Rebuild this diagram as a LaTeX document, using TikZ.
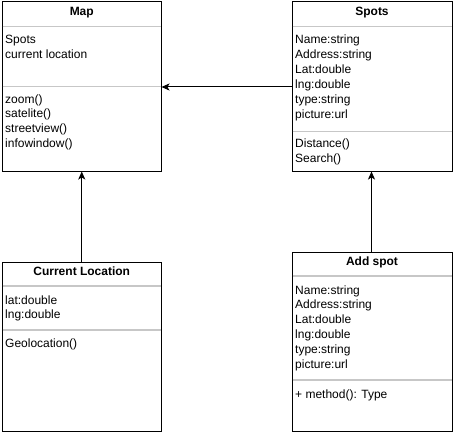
\documentclass[tikz,border=0pt]{standalone}
\usepackage{fontspec}
\setmainfont{Liberation Sans}
\usetikzlibrary{arrows.meta}
\begin{document}
\begin{tikzpicture}[x=1pt,y=-1pt,
  box/.style={draw=black,line width=1pt,inner sep=0pt,outer sep=0pt,anchor=north west},
  sep/.style={draw=black!22,line width=1.6pt},
  ttl/.style={anchor=base,inner sep=0pt,font=\fontsize{12}{14}\selectfont\bfseries},
  txt/.style={anchor=base west,inner sep=0pt,font=\fontsize{12}{14}\selectfont},
  arr/.style={draw=black,line width=1pt,-{Stealth[length=8pt,width=7pt,inset=2pt]}}]
\useasboundingbox (0,0) rectangle (453,436);
\fill[white] (0,0) rectangle (453,436);
% boxes
\node[box,minimum width=159.5pt,minimum height=169.5pt] (map) at (2,2) {};
\node[box,minimum width=160pt,minimum height=169.5pt] (spots) at (292,2) {};
\node[box,minimum width=159.5pt,minimum height=169pt] (cl) at (2,262) {};
\node[box,minimum width=160pt,minimum height=179pt] (add) at (292,252) {};
% separators
\draw[sep] ([xshift=0.5pt,yshift=-24.5pt]map.north west) -- ([xshift=-0.5pt,yshift=-24.5pt]map.north east);
\draw[sep] ([xshift=0.5pt,yshift=-84.5pt]map.north west) -- ([xshift=-0.5pt,yshift=-84.5pt]map.north east);
\draw[sep] ([xshift=0.5pt,yshift=-24.5pt]spots.north west) -- ([xshift=-0.5pt,yshift=-24.5pt]spots.north east);
\draw[sep] ([xshift=0.5pt,yshift=-129.5pt]spots.north west) -- ([xshift=-0.5pt,yshift=-129.5pt]spots.north east);
\draw[sep] ([xshift=0.5pt,yshift=-24pt]cl.north west) -- ([xshift=-0.5pt,yshift=-24pt]cl.north east);
\draw[sep] ([xshift=0.5pt,yshift=-68pt]cl.north west) -- ([xshift=-0.5pt,yshift=-68pt]cl.north east);
\draw[sep] ([xshift=0.5pt,yshift=-24pt]add.north west) -- ([xshift=-0.5pt,yshift=-24pt]add.north east);
\draw[sep] ([xshift=0.5pt,yshift=-128pt]add.north west) -- ([xshift=-0.5pt,yshift=-128pt]add.north east);
% titles
\node[ttl] (tmap) at (81.75,16) {Map};
\node[ttl] (tspots) at (372,16) {Spots};
\node[ttl] (tcl) at (81.75,275) {Current Location};
\node[ttl] (tadd) at (372,265) {Add spot};
% Map
\node[txt] (m1) at (5,44) {Spots};
\node[txt] (m2) at (5,58.8) {current location};
\node[txt] (m3) at (5,103) {zoom()};
\node[txt] (m4) at (5,117.8) {satelite()};
\node[txt] (m5) at (5,132.6) {streetview()};
\node[txt] (m6) at (5,147.4) {infowindow()};
% Spots
\node[txt] (s1) at (295,44) {Name:string};
\node[txt] (s2) at (295,58.8) {Address:string};
\node[txt] (s3) at (295,73.6) {Lat:double};
\node[txt] (s4) at (295,88.4) {lng:double};
\node[txt] (s5) at (295,103.2) {type:string};
\node[txt] (s6) at (295,118) {picture:url};
\node[txt] (s7) at (295,147.6) {Distance()};
\node[txt] (s8) at (295,162.4) {Search()};
% Current Location
\node[txt] (c1) at (5,304) {lat:double};
\node[txt] (c2) at (5,318.8) {lng:double};
\node[txt] (c3) at (5,347.4) {Geolocation()};
% Add spot
\node[txt] (a1) at (295,294) {Name:string};
\node[txt] (a2) at (295,308.8) {Address:string};
\node[txt] (a3) at (295,323.6) {Lat:double};
\node[txt] (a4) at (295,338.4) {lng:double};
\node[txt] (a5) at (295,353.2) {type:string};
\node[txt] (a6) at (295,368) {picture:url};
\node[txt] (a7) at (295,398) {+ method(): Type};
% connectors
\draw[arr] (spots.west |- 0,87) -- (map.east |- 0,87);
\draw[arr] (cl.north) -- (map.south);
\draw[arr] (add.north -| 371.5,0) -- (spots.south -| 371.5,0);
\end{tikzpicture}
\end{document}
